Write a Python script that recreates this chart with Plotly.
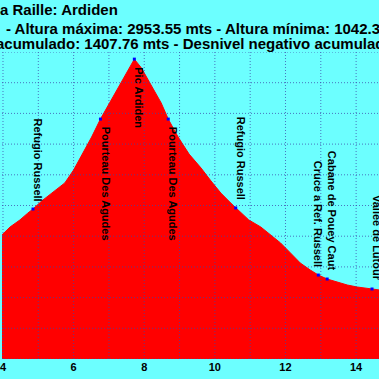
import plotly.graph_objects as go

# ---------------- data ----------------
km = [3.90, 3.97, 4.20, 4.48, 4.70, 4.85, 5.10, 5.38, 5.60, 5.75, 6.00, 6.23,
      6.51, 6.76, 7.07, 7.35, 7.58, 7.72, 7.92, 8.20, 8.48, 8.68, 8.96, 9.27,
      9.61, 9.89, 10.17, 10.45, 10.59, 10.96, 11.30, 11.58, 11.86, 12.14,
      12.42, 12.70, 12.93, 13.18, 13.46, 13.75, 14.03, 14.45, 14.65, 14.75]
alt = [1775, 1808, 1860, 1906, 1950, 1977, 2030, 2081, 2120, 2147, 2231, 2329,
       2446, 2563, 2690, 2800, 2900, 2953.55, 2896, 2785, 2668, 2563, 2446, 2335,
       2244, 2160, 2081, 2016, 1984, 1906, 1860, 1808, 1756, 1691,
       1625, 1580, 1547, 1521, 1502, 1482, 1469, 1456, 1450, 1447]

wp_names = ["Refugio Russell", "Pourteau Des Agudes", "Pic Ardiden",
            "Pourteau Des Agudes", "Refugio Russell", "Cruce a Ref. Russell",
            "Cabane de Pouey Caut", "Vallee de Lutour"]
wp_km = [4.85, 6.76, 7.72, 8.68, 10.59, 12.93, 13.18, 14.45]
wp_alt = [1977, 2563, 2953.55, 2563, 1984, 1547, 1521, 1456]

title_lines = ["a Raille: Ardiden",
               "- Altura máxima: 2953.55 mts - Altura mínima: 1042.3",
               "acumulado: 1407.76 mts - Desnivel negativo acumulado"]

x_ticks = [4, 6, 8, 10, 12, 14]
x_grid = list(range(4, 15))
y_grid = list(range(1000, 3001, 200))

# ---------------- figure ----------------
CYAN = "#6CFFFF"
RED = "#FF0000"
GRID = "rgba(60,70,170,0.75)"
FONT = "Arial, 'Liberation Sans', sans-serif"

fig = go.Figure()
fig.add_trace(go.Scatter(x=km, y=alt, mode="lines", fill="tozeroy",
                         fillcolor=RED, line=dict(color=RED, width=1),
                         hoverinfo="skip"))
fig.add_trace(go.Scatter(x=wp_km, y=wp_alt, mode="markers",
                         marker=dict(symbol="square", size=3, color="#0000FF",
                                     line=dict(width=0))))

shapes = []
for g in x_grid:
    shapes.append(dict(type="line", xref="x", yref="paper", x0=g, x1=g, y0=0, y1=1,
                       layer="above", line=dict(color=GRID, width=1, dash="1px,2px")))
for g in y_grid:
    shapes.append(dict(type="line", xref="paper", yref="y", x0=0, x1=1, y0=g, y1=g,
                       layer="above", line=dict(color=GRID, width=1, dash="1px,2px")))

annotations = []
title_shift = [(-4, 43), (2, 24), (-8.5, 9)]
for line, (xs, ys) in zip(title_lines, title_shift):
    annotations.append(dict(text=line, xref="paper", yref="paper", x=0, y=1,
                            xanchor="left", yanchor="middle", xshift=xs, yshift=ys,
                            showarrow=False,
                            font=dict(family=FONT, size=15, color="black", weight="bold")))

for name, xk, ya in zip(wp_names, wp_km, wp_alt):
    below = ya > 2500
    xanchor = "center" if name.startswith("Cruce") else "left"
    annotations.append(dict(text=name, x=xk, y=ya, xref="x", yref="y",
                            textangle=90, showarrow=False,
                            xanchor=xanchor, xshift=(0 if xanchor == "center" else -3),
                            yanchor="top" if below else "bottom",
                            yshift=-6 if below else 6,
                            font=dict(family=FONT, size=11, color="black", weight="bold")))

fig.update_layout(
    width=379, height=379,
    margin=dict(l=0, r=0, t=52, b=20, pad=0),
    paper_bgcolor=CYAN, plot_bgcolor=CYAN,
    showlegend=False,
    shapes=shapes, annotations=annotations,
    xaxis=dict(range=[3.972, 14.648], tickvals=x_ticks,
               ticktext=[str(t) for t in x_ticks],
               showgrid=False, zeroline=False, ticks="", showline=False,
               ticklabeloverflow="allow",
               tickfont=dict(family=FONT, size=11, color="black", weight="bold")),
    yaxis=dict(range=[1000, 3000], showticklabels=False, showgrid=False,
               zeroline=False, ticks="", showline=False),
)

fig.write_html("out.html", config={"displayModeBar": False})

with open("out.html", "r", encoding="utf-8") as f:
    html = f.read()
html = html.replace("<head>", "<head><style>html,body{margin:0;padding:0;overflow:hidden}</style>", 1)
with open("out.html", "w", encoding="utf-8") as f:
    f.write(html)
